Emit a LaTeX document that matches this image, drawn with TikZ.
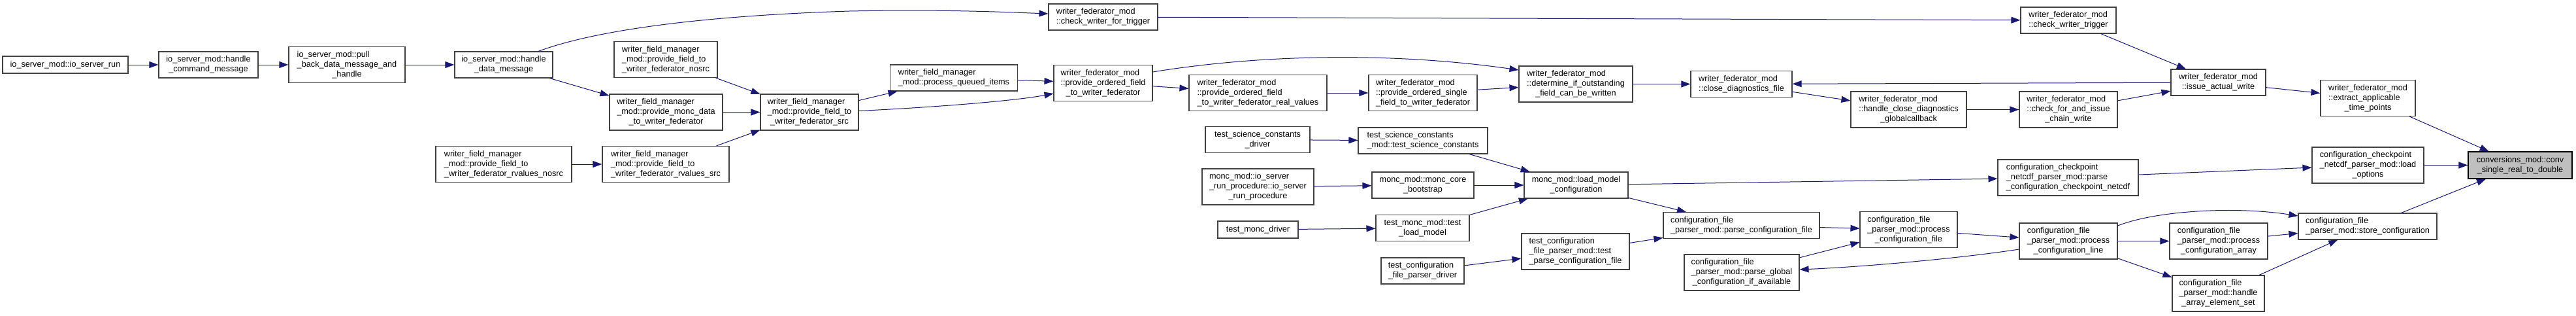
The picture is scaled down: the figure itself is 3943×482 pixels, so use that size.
\documentclass[tikz,border=0pt]{standalone}
\usepackage{fontspec}
\setmainfont{Liberation Sans}
\usetikzlibrary{arrows.meta}
\definecolor{edgec}{HTML}{191970}
\definecolor{boxc}{HTML}{404040}
\definecolor{hlfill}{HTML}{BFBFBF}
\newcommand\mlab[1]{\begin{tabular}{@{}l@{}}#1\end{tabular}}
\newcommand\lastln[1]{\multicolumn{1}{@{}c@{}}{#1}}
\tikzset{
 nodebox/.style={draw=boxc, line width=1.1pt, fill=white, inner sep=0pt, font=\fontsize{12.7}{15}\selectfont, text=black},
 callarrow/.style={draw=edgec, line width=1pt, -{Triangle[length=14pt,width=10pt]}},
}
\newcommand\nbox[6]{\node[nodebox, minimum width=#4pt, minimum height=#5pt] (#1) at (#2,-#3) {#6};}
\begin{document}
\begin{tikzpicture}[x=1pt,y=1pt]
\fill[white] (0,0) rectangle (3943,-482);
\useasboundingbox (0,0) rectangle (3943,-482);
% nodes
\nbox{iosr}{100}{99}{192}{26}{io\_server\_mod::io\_server\_run}
\nbox{hcm}{319}{99}{152}{40}{\mlab{io\_server\_mod::handle\\\lastln{\_command\_message}}}
\nbox{pb}{531}{99}{178}{55}{\mlab{io\_server\_mod::pull\\\_back\_data\_message\_and\\\lastln{\_handle}}}
\nbox{hdm}{771}{99}{150}{40}{\mlab{io\_server\_mod::handle\\\lastln{\_data\_message}}}
\nbox{pfns}{1019}{91}{158}{55}{\mlab{writer\_field\_manager\\\_mod::provide\_field\_to\\\lastln{\_writer\_federator\_nosrc}}}
\nbox{pmd}{1019.5}{171.5}{173}{55}{\mlab{writer\_field\_manager\\\_mod::provide\_monc\_data\\\lastln{\_to\_writer\_federator}}}
\nbox{pfs}{1239}{171.5}{150}{55}{\mlab{writer\_field\_manager\\\_mod::provide\_field\_to\\\lastln{\_writer\_federator\_src}}}
\nbox{rvns}{771}{251}{208}{55}{\mlab{writer\_field\_manager\\\_mod::provide\_field\_to\\\lastln{\_writer\_federator\_rvalues\_nosrc}}}
\nbox{rvs}{1019}{251}{194}{55}{\mlab{writer\_field\_manager\\\_mod::provide\_field\_to\\\lastln{\_writer\_federator\_rvalues\_src}}}
\nbox{pqi}{1460}{119}{195}{40}{\mlab{writer\_field\_manager\\\lastln{\_mod::process\_queued\_items}}}
\nbox{cwft}{1688.5}{26}{167}{40}{\mlab{writer\_federator\_mod\\\lastln{::check\_writer\_for\_trigger}}}
\nbox{pof}{1688.5}{127}{151}{55}{\mlab{writer\_federator\_mod\\::provide\_ordered\_field\\\lastln{\_to\_writer\_federator}}}
\nbox{rv}{1925.5}{142}{211}{55}{\mlab{writer\_federator\_mod\\::provide\_ordered\_field\\\lastln{\_to\_writer\_federator\_real\_values}}}
\nbox{sf}{2178}{142}{166}{55}{\mlab{writer\_federator\_mod\\::provide\_ordered\_single\\\lastln{\_field\_to\_writer\_federator}}}
\nbox{det}{2412}{128.5}{174}{55}{\mlab{writer\_federator\_mod\\::determine\_if\_outstanding\\\lastln{\_field\_can\_be\_written}}}
\nbox{cdf}{2665.5}{128.5}{155}{40}{\mlab{writer\_federator\_mod\\\lastln{::close\_diagnostics\_file}}}
\nbox{hcd}{2921.5}{167.5}{177}{55}{\mlab{writer\_federator\_mod\\::handle\_close\_diagnostics\\\lastln{\_globalcallback}}}
\nbox{cfai}{3166}{167.5}{150}{55}{\mlab{writer\_federator\_mod\\::check\_for\_and\_issue\\\lastln{\_chain\_write}}}
\nbox{cwt}{3166}{31}{146}{40}{\mlab{writer\_federator\_mod\\\lastln{::check\_writer\_trigger}}}
\nbox{iaw}{3395.5}{126}{145}{40}{\mlab{writer\_federator\_mod\\\lastln{::issue\_actual\_write}}}
\nbox{eatp}{3624.5}{150}{145}{55}{\mlab{writer\_federator\_mod\\::extract\_applicable\\\lastln{\_time\_points}}}
\node[nodebox, fill=hlfill, draw=black, minimum width=159pt, minimum height=41pt] (conv) at (3857.5,-252.5) {\mlab{conversions\_mod::conv\\\lastln{\_single\_real\_to\_double}}};
\nbox{tscd}{1925}{213.5}{160}{40}{\mlab{test\_science\_constants\\\lastln{\_driver}}}
\nbox{tscm}{2178}{215}{198}{40}{\mlab{test\_science\_constants\\\lastln{\_mod::test\_science\_constants}}}
\nbox{iorp}{1925.5}{285.5}{171}{55}{\mlab{monc\_mod::io\_server\\\_run\_procedure::io\_server\\\lastln{\_run\_procedure}}}
\nbox{mcb}{2178}{283}{156}{40}{\mlab{monc\_mod::monc\_core\\\lastln{\_bootstrap}}}
\nbox{lmc}{2412.5}{283}{159}{40}{\mlab{monc\_mod::load\_model\\\lastln{\_configuration}}}
\nbox{tmd}{1925.5}{351}{123}{26}{test\_monc\_driver}
\nbox{tlm}{2177.5}{348.5}{143}{40}{\mlab{test\_monc\_mod::test\\\lastln{\_load\_model}}}
\nbox{tcfpd}{2177.5}{414}{127}{40}{\mlab{test\_configuration\\\lastln{\_file\_parser\_driver}}}
\nbox{tpcf}{2411.5}{384.5}{165}{55}{\mlab{test\_configuration\\\_file\_parser\_mod::test\\\lastln{\_parse\_configuration\_file}}}
\nbox{pcf}{2665.5}{344.5}{239}{40}{\mlab{configuration\_file\\\lastln{\_parser\_mod::parse\_configuration\_file}}}
\nbox{pg}{2666}{416.5}{176}{55}{\mlab{configuration\_file\\\_parser\_mod::parse\_global\\\lastln{\_configuration\_if\_available}}}
\nbox{pcfile}{2921.5}{351}{149}{55}{\mlab{configuration\_file\\\_parser\_mod::process\\\lastln{\_configuration\_file}}}
\nbox{pcl}{3166}{368.5}{150}{55}{\mlab{configuration\_file\\\_parser\_mod::process\\\lastln{\_configuration\_line}}}
\nbox{cnp}{3165.5}{271.5}{215}{55}{\mlab{configuration\_checkpoint\\\_netcdf\_parser\_mod::parse\\\lastln{\_configuration\_checkpoint\_netcdf}}}
\nbox{lo}{3624.5}{252.5}{171}{55}{\mlab{configuration\_checkpoint\\\_netcdf\_parser\_mod::load\\\lastln{\_options}}}
\nbox{store}{3624}{346}{212}{40}{\mlab{configuration\_file\\\lastln{\_parser\_mod::store\_configuration}}}
\nbox{pca}{3396}{368.5}{150}{55}{\mlab{configuration\_file\\\_parser\_mod::process\\\lastln{\_configuration\_array}}}
\nbox{hae}{3395.5}{448.5}{141}{55}{\mlab{configuration\_file\\\_parser\_mod::handle\\\lastln{\_array\_element\_set}}}
% edges
\draw[callarrow] (iosr) -- (hcm);
\draw[callarrow] (hcm) -- (pb);
\draw[callarrow] (pb) -- (hdm);
\draw[callarrow] ([xshift=53pt]hdm.north) .. controls (900,-50) and (1050,-25) .. (1300,-17) .. controls (1450,-14) and (1550,-19) .. ([yshift=5pt]cwft.west);
\draw[callarrow] (hdm) -- (pmd);
\draw[callarrow] (pfns) -- (pfs);
\draw[callarrow] (pmd) -- (pfs);
\draw[callarrow] (rvs) -- (pfs);
\draw[callarrow] (rvns) -- (rvs);
\draw[callarrow] (pfs) -- (pqi);
\draw[callarrow] ([yshift=2pt]pfs.east) .. controls (1450,-163) and (1560,-153) .. ([yshift=-16pt]pof.west);
\draw[callarrow] (pqi) -- (pof);
\draw[callarrow] (cwft) -- (cwt);
\draw[callarrow] ([yshift=17pt]pof.east) .. controls (1950,-80) and (2150,-82) .. ([yshift=21.5pt]det.west);
\draw[callarrow] (pof) -- (rv);
\draw[callarrow] (rv) -- (sf);
\draw[callarrow] (sf) -- (det);
\draw[callarrow] (det) -- (cdf);
\draw[callarrow] (cdf) -- (hcd);
\draw[callarrow] (hcd) -- (cfai);
\draw[callarrow] (cfai) -- (iaw);
\draw[callarrow] (iaw) -- (cdf);
\draw[callarrow] (cwt) -- (iaw);
\draw[callarrow] (iaw) -- (eatp);
\draw[callarrow] (eatp) -- (conv);
\draw[callarrow] (lo) -- (conv);
\draw[callarrow] (store) -- (conv);
\draw[callarrow] (tscd) -- (tscm);
\draw[callarrow] (iorp) -- (mcb);
\draw[callarrow] (tmd) -- (tlm);
\draw[callarrow] (tcfpd) -- (tpcf);
\draw[callarrow] (tscm) -- (lmc);
\draw[callarrow] (mcb) -- (lmc);
\draw[callarrow] (tlm) -- (lmc);
\draw[callarrow] (lmc) -- (cnp);
\draw[callarrow] (lmc) -- (pcf);
\draw[callarrow] (tpcf) -- (pcf);
\draw[callarrow] (pcf) -- (pcfile);
\draw[callarrow] (pg) -- (pcfile);
\draw[callarrow] (pcfile) -- (pcl);
\draw[callarrow] ([yshift=-12.5pt]pcl.west) .. controls (3000,-395) and (2850,-408) .. ([yshift=4.5pt]pg.east);
\draw[callarrow] (cnp) -- (lo);
\draw[callarrow] ([yshift=23.5pt]pcl.east) .. controls (3300,-322) and (3420,-315) .. ([yshift=16pt]store.west);
\draw[callarrow] (pcl) -- (pca);
\draw[callarrow] (pcl) -- (hae);
\draw[callarrow] (pca) -- (store);
\draw[callarrow] (hae) -- (store);
\end{tikzpicture}
\end{document}
